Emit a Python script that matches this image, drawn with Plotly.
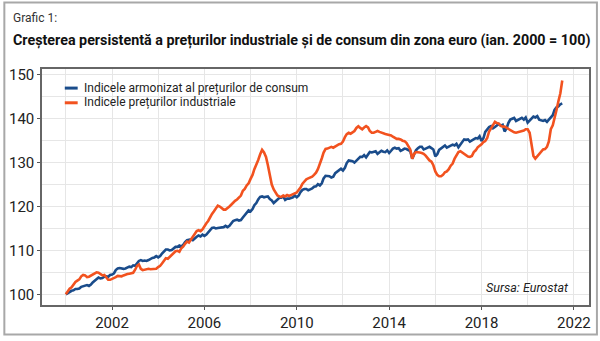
import pandas as pd
import plotly.graph_objects as go

# ---- data (monthly, Jan 2000 = 100) ----
hicp = [
    100.0,100.3,100.6,100.8,100.9,101.2,101.2,101.3,101.7,101.8,102.0,102.1,   # 2000
    101.9,102.2,102.7,103.1,103.6,103.8,103.6,103.7,104.0,104.1,104.0,104.4,   # 2001
    104.5,104.8,105.5,105.9,106.0,105.9,105.8,105.9,106.1,106.3,106.2,106.6,   # 2002
    106.5,107.0,107.6,107.8,107.6,107.7,107.6,107.8,108.1,108.3,108.4,108.7,   # 2003
    108.4,108.7,109.3,109.9,110.2,110.2,110.0,110.1,110.4,110.8,110.8,111.1,   # 2004
    110.9,111.3,111.9,112.3,112.4,112.5,112.3,112.6,113.1,113.4,113.2,113.6,   # 2005
    113.3,113.6,114.1,114.8,115.1,115.2,115.0,115.1,115.2,115.2,115.3,115.6,   # 2006
    115.3,115.6,116.2,116.7,116.9,117.0,116.8,116.9,117.5,118.1,118.6,119.1,   # 2007
    118.9,119.4,120.3,120.8,121.6,122.2,122.3,122.1,122.2,122.3,121.7,121.4,   # 2008
    120.8,121.3,121.5,122.0,122.0,122.3,121.5,121.8,121.8,122.0,122.1,122.5,   # 2009
    122.1,122.5,123.3,123.8,124.0,124.0,123.7,123.9,124.1,124.5,124.6,125.1,   # 2010
    124.8,125.3,126.4,127.0,127.0,126.9,126.6,126.8,127.6,127.9,128.2,128.6,   # 2011
    128.2,128.8,129.9,130.5,130.4,130.3,130.0,130.4,131.0,131.3,131.3,131.7,   # 2012
    131.2,131.7,132.4,132.3,132.5,132.6,132.0,132.3,132.7,132.5,132.4,132.8,   # 2013
    132.2,132.7,133.2,133.4,133.2,133.3,132.7,132.9,133.2,133.1,132.9,132.6,   # 2014
    130.9,131.8,132.8,133.3,133.6,133.6,133.0,133.2,133.5,133.6,133.3,133.0,   # 2015
    131.4,131.9,132.9,133.3,133.7,133.9,133.4,133.6,133.9,134.1,133.9,134.3,   # 2016
    133.5,134.1,134.9,135.3,135.2,135.3,134.8,135.1,135.5,135.6,135.5,136.0,   # 2017
    134.9,135.6,137.0,137.6,138.1,138.3,137.8,138.1,138.5,138.8,138.4,138.6,   # 2018
    137.1,137.8,139.0,139.8,140.0,140.2,139.5,139.7,140.0,140.2,139.8,140.3,   # 2019
    139.1,139.6,140.2,140.5,140.3,140.6,139.8,139.6,139.5,139.7,139.3,139.8,   # 2020
    140.2,140.8,142.0,142.6,142.8,143.3,143.5,                                 # 2021
]
ppi = [
    100.0,100.6,101.3,101.6,102.2,102.8,103.1,103.4,104.1,104.4,104.3,103.9,   # 2000
    104.0,104.3,104.5,104.8,105.0,104.9,104.6,104.3,104.4,103.8,103.3,103.3,   # 2001
    103.5,103.6,103.9,104.2,104.2,104.1,104.3,104.5,104.6,104.7,104.8,104.9,   # 2002
    105.6,106.5,106.8,105.8,105.5,105.6,105.7,105.8,105.7,105.7,105.7,105.8,   # 2003
    106.2,106.5,107.0,107.6,108.2,108.1,108.5,109.0,109.2,109.8,109.9,109.7,   # 2004
    110.5,110.9,111.5,112.0,111.8,112.4,113.0,113.6,114.4,114.6,114.4,114.8,   # 2005
    115.6,116.2,116.7,117.6,118.3,118.9,119.6,120.2,120.0,119.6,119.3,119.3,   # 2006
    119.6,120.0,120.4,121.0,121.3,121.6,122.1,122.5,123.6,124.0,124.8,125.3,   # 2007
    126.3,127.2,128.5,129.5,130.6,131.9,132.9,132.3,131.3,129.4,127.1,125.0,   # 2008
    123.9,123.1,122.5,122.3,122.2,122.5,122.3,122.6,122.4,122.6,122.8,122.9,   # 2009
    123.2,123.8,124.3,125.2,125.8,126.2,126.4,126.6,126.8,127.2,127.7,128.5,   # 2010
    129.6,131.0,132.3,133.1,133.2,133.4,133.6,133.4,133.7,134.0,134.2,134.3,   # 2011
    134.8,135.8,136.5,136.8,136.6,136.9,137.2,137.9,138.3,137.9,137.6,138.0,   # 2012
    138.3,138.0,137.2,136.8,136.8,137.0,137.2,137.0,136.8,136.6,136.5,136.4,   # 2013
    136.3,136.2,135.9,135.6,135.4,135.4,135.3,135.0,134.9,134.5,133.8,133.0,   # 2014
    130.9,132.0,132.4,132.4,132.3,132.2,132.0,131.6,131.0,130.5,130.2,129.4,   # 2015
    128.0,127.2,126.9,126.9,127.2,127.8,128.0,128.5,129.3,129.8,130.9,131.6,   # 2016
    132.4,132.6,132.3,132.0,131.7,131.4,131.3,131.5,132.4,132.8,133.5,133.8,   # 2017
    134.2,134.7,134.9,135.6,137.1,137.8,138.4,139.3,139.0,138.9,138.4,138.2,   # 2018
    138.2,137.9,137.6,137.4,137.0,136.9,136.8,136.9,137.0,137.1,137.3,137.6,   # 2019
    137.6,136.8,134.0,131.5,130.9,131.5,132.0,132.4,133.0,133.1,133.6,134.8,   # 2020
    137.6,138.5,140.0,142.0,144.0,145.8,148.7,                                 # 2021
]
months = pd.date_range("2000-01-01", periods=len(hicp), freq="MS")

series_names = ["Indicele armonizat al prețurilor de consum",
                "Indicele prețurilor industriale"]
x_ticks = ["2002-01-01", "2006-01-01", "2010-01-01", "2014-01-01", "2018-01-01", "2022-01-01"]
x_tick_text = ["2002", "2006", "2010", "2014", "2018", "2022"]
y_ticks = [100, 110, 120, 130, 140, 150]

BLUE = "#1a4c8b"
ORANGE = "#f2521f"
FONT = "Roboto, Lato, sans-serif"

# pixel geometry of plot area
L, R, T, B = 39, 591, 69, 310
W, H = R - L, B - T
def px(x): return (x - L) / W
def py(y): return (B - y) / H

fig = go.Figure()
fig.add_trace(go.Scatter(x=months, y=hicp, mode="lines", name=series_names[0],
                         line=dict(color=BLUE, width=2.6), showlegend=False))
fig.add_trace(go.Scatter(x=months, y=ppi, mode="lines", name=series_names[1],
                         line=dict(color=ORANGE, width=2.6), showlegend=False))

fig.update_layout(
    width=600, height=341,
    margin=dict(l=L, r=600 - R, t=T, b=341 - B),
    paper_bgcolor="white", plot_bgcolor="white",
    font=dict(family=FONT, color="#222222", size=15),
)
fig.update_xaxes(
    type="date", range=["1998-12-20", "2022-08-28"],
    tickvals=x_ticks, ticktext=x_tick_text,
    ticks="outside", ticklen=3, tickcolor="#555555",
    showgrid=True, gridcolor="#e6e6e6", gridwidth=1,
    minor=dict(tickvals=["2000-01-01", "2004-01-01", "2008-01-01", "2012-01-01",
                         "2016-01-01", "2020-01-01"], showgrid=True, gridcolor="#e6e6e6"),
    showline=True, linecolor="#666666", linewidth=1.5, mirror=True,
    zeroline=False, tickfont=dict(size=15, family=FONT),
)
fig.update_yaxes(
    range=[97.56, 151.33], tickvals=y_ticks,
    ticks="outside", ticklen=3, tickcolor="#555555",
    showgrid=True, gridcolor="#e6e6e6", gridwidth=1,
    minor=dict(dtick=5, tick0=0, showgrid=True, gridcolor="#e6e6e6"),
    showline=True, linecolor="#666666", linewidth=1.5, mirror=True,
    zeroline=False, tickfont=dict(size=15, family=FONT),
)

shapes = [
    # outer frame of the image
    dict(type="rect", xref="paper", yref="paper",
         x0=px(1), x1=px(599), y0=py(340), y1=py(1),
         line=dict(color="#a8a8a8", width=2), layer="below"),
    # legend samples
    dict(type="line", xref="paper", yref="paper", x0=px(62), x1=px(75), y0=py(88.5), y1=py(88.5),
         line=dict(color=BLUE, width=3)),
    dict(type="line", xref="paper", yref="paper", x0=px(62), x1=px(75), y0=py(103.5), y1=py(103.5),
         line=dict(color=ORANGE, width=3)),
]
annotations = [
    dict(text="Grafic 1:", xref="paper", yref="paper", x=px(8), y=py(17),
         xanchor="left", yanchor="middle", showarrow=False,
         font=dict(size=12, color="#333333", family=FONT)),
    dict(text="<b>Creșterea persistentă a prețurilor industriale și de consum din zona euro (ian. 2000 = 100)</b>",
         xref="paper", yref="paper", x=px(8), y=py(40),
         xanchor="left", yanchor="middle", showarrow=False,
         font=dict(size=14.3, color="#111111", family=FONT)),
    dict(text=series_names[0], xref="paper", yref="paper", x=px(79), y=py(88.5),
         xanchor="left", yanchor="middle", showarrow=False,
         font=dict(size=12, color="#222222", family=FONT)),
    dict(text=series_names[1], xref="paper", yref="paper", x=px(79), y=py(103.5),
         xanchor="left", yanchor="middle", showarrow=False,
         font=dict(size=12, color="#222222", family=FONT)),
    dict(text="<i>Sursa: Eurostat</i>", xref="paper", yref="paper", x=px(573), y=py(292),
         xanchor="right", yanchor="middle", showarrow=False,
         font=dict(size=12.5, color="#222222", family=FONT)),
]
fig.update_layout(shapes=shapes, annotations=annotations)

fig.write_html("out.html")
